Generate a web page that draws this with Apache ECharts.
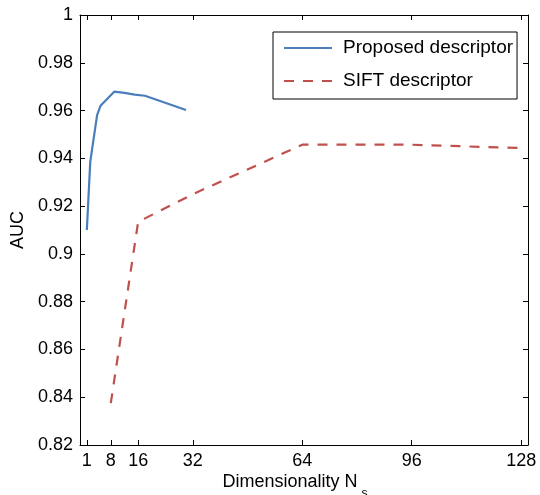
<!DOCTYPE html>
<html><head><meta charset="utf-8">
<script src="https://cdn.jsdelivr.net/npm/echarts@6/dist/echarts.min.js"></script>
<style>html,body{margin:0;padding:0;background:#fff}#c{width:540px;height:495px}</style>
</head><body><div id="c"></div>
<script>
const xTicks = [1, 8, 16, 32, 64, 96, 128];
const proposedX = [1, 2, 4, 5, 9, 12, 15, 18, 30];
const proposedY = [0.910, 0.9386, 0.9581, 0.9620, 0.9679, 0.9674, 0.9667, 0.9662, 0.9602];
const siftX = [8, 16, 32, 64, 96, 112, 128];
const siftY = [0.8375, 0.9134, 0.9250, 0.9457, 0.9457, 0.9450, 0.9443];
const seriesNames = ['Proposed descriptor', 'SIFT descriptor'];

const font = 'Liberation Sans, Arial, Helvetica, sans-serif';
const chart = echarts.init(document.getElementById('c'), null, {renderer: 'canvas'});
const pair = (xs, ys) => xs.map((x, i) => [x, ys[i]]);
const axisLine = {show: true, onZero: false, lineStyle: {color: '#000', width: 1}};
const tick = {show: true, inside: true, length: 5, lineStyle: {color: '#000', width: 1}};
chart.setOption({
  animation: false,
  grid: {left: 80, right: 12, top: 15, bottom: 50, containLabel: false, outerBoundsMode: 'none'},
  xAxis: [{
    type: 'value', min: -1, max: 130, position: 'bottom',
    axisLine: axisLine,
    axisTick: Object.assign({customValues: xTicks}, tick),
    axisLabel: {customValues: xTicks, color: '#000', fontSize: 18, fontFamily: font, margin: 7},
    splitLine: {show: false},
    name: '{a|Dimensionality N}{s|s}', nameLocation: 'middle', nameGap: 19, nameMoveOverlap: false,
    nameTextStyle: {color: '#000', fontFamily: font, verticalAlign: 'top', padding: [0, 18, 0, 0],
      rich: {a: {fontSize: 18, fontFamily: font, color: '#000'},
             s: {fontSize: 12, fontFamily: font, color: '#000', padding: [24, 0, 0, 4]}}}
  }, {
    type: 'value', min: -1, max: 130, position: 'top',
    axisLine: axisLine,
    axisTick: Object.assign({customValues: xTicks}, tick),
    axisLabel: {show: false}, splitLine: {show: false}
  }],
  yAxis: [{
    type: 'value', min: 0.82, max: 1, interval: 0.02, position: 'left',
    axisLine: axisLine, axisTick: tick,
    axisLabel: {color: '#000', fontSize: 18, fontFamily: font, margin: 7,
      formatter: v => String(parseFloat(v.toFixed(2)))},
    splitLine: {show: false},
    name: 'AUC', nameLocation: 'middle', nameGap: 52,
    nameTextStyle: {color: '#000', fontSize: 18, fontFamily: font}
  }, {
    type: 'value', min: 0.82, max: 1, interval: 0.02, position: 'right',
    axisLine: axisLine, axisTick: tick,
    axisLabel: {show: false}, splitLine: {show: false}
  }],
  legend: {
    orient: 'vertical', left: 273, top: 32,
    data: seriesNames,
    itemWidth: 48, itemHeight: 14, itemGap: 13,
    padding: [6, 4, 8, 10],
    borderColor: '#000', borderWidth: 1, backgroundColor: '#fff',
    itemStyle: {opacity: 0, borderWidth: 0},
    textStyle: {color: '#000', fontSize: 19, fontFamily: font, lineHeight: 20, padding: [0, 0, 0, 6]}
  },
  series: [{
    name: seriesNames[0], type: 'line', data: pair(proposedX, proposedY),
    symbol: 'none', lineStyle: {color: '#4A7EBB', width: 2.2}, itemStyle: {color: '#4A7EBB'}
  }, {
    name: seriesNames[1], type: 'line', data: pair(siftX, siftY),
    symbol: 'none', lineStyle: {color: '#C0504D', width: 2.2, type: [10, 9]}, itemStyle: {color: '#C0504D'}
  }]
});
</script></body></html>
